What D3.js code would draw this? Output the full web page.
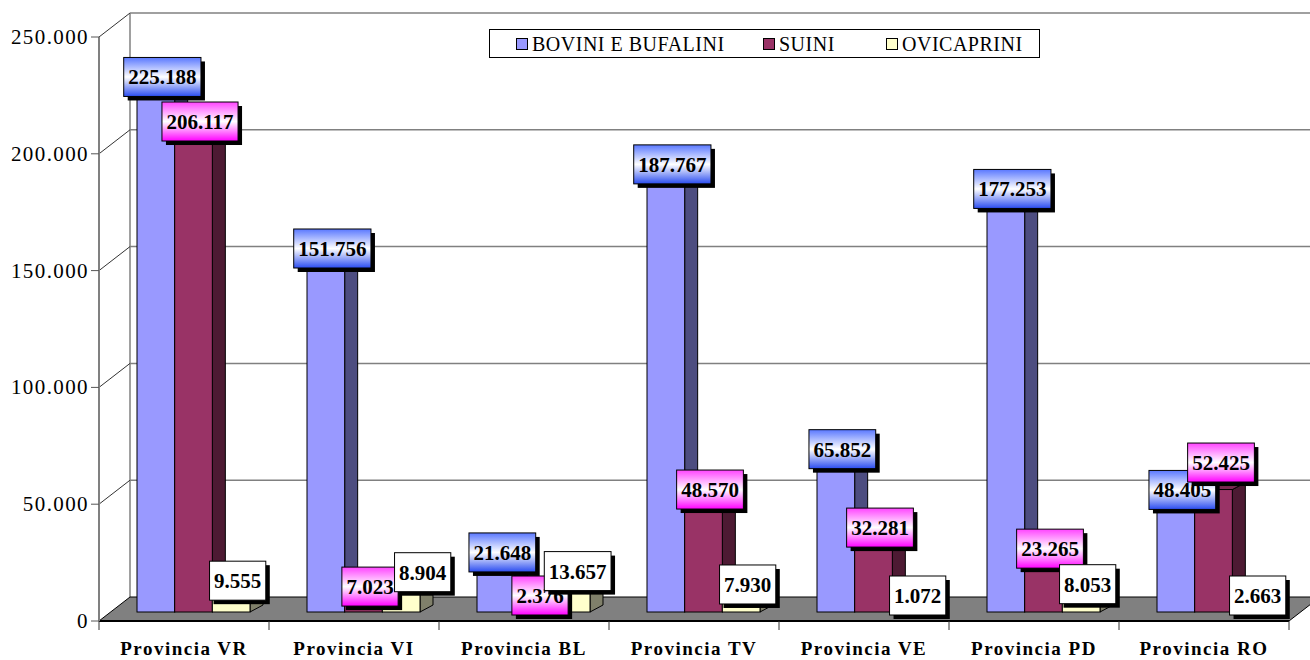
<!DOCTYPE html>
<html>
<head>
<meta charset="utf-8">
<script src="https://cdn.jsdelivr.net/npm/d3@7"></script>
<style>
  html, body { margin: 0; padding: 0; background: #fff; }
  svg { display: block; }
</style>
</head>
<body>
<svg id="chart" width="1310" height="660"></svg>
<script>
// Capi allevati per provincia del Veneto
const categories = ["Provincia VR", "Provincia VI", "Provincia BL", "Provincia TV", "Provincia VE", "Provincia PD", "Provincia RO"];
const seriesNames = ["BOVINI E BUFALINI", "SUINI", "OVICAPRINI"];
const bovini = [225188, 151756, 21648, 187767, 65852, 177253, 48405];
const suini = [206117, 7023, 2376, 48570, 32281, 23265, 52425];
const ovicaprini = [9555, 8904, 13657, 7930, 1072, 8053, 2663];
const yTicks = [0, 50000, 100000, 150000, 200000, 250000];

const seriesValues = [bovini, suini, ovicaprini];

// Styling per series: front face, side face, top face, label gradient
const seriesStyle = [
  { front: "#9999ff", side: "#4d4d80", top: "#8080d8", label: "gradBlue" },
  { front: "#993366", side: "#4d1a33", top: "#7a2952", label: "gradPink" },
  { front: "#ffffcc", side: "#80806a", top: "#e6e6b8", label: null }
];

const it = d3.formatLocale({ decimal: ",", thousands: ".", grouping: [3], currency: ["€", ""] });
const fmt = it.format(",d");

const svg = d3.select("#chart");
const W = 1310;

// 3D geometry: front plane vs back wall
const WALL_DX = 31, WALL_DY = -24;
// bars sit part-way into the floor depth
const BAR_DX = 9.5, BAR_DY = -9;
// depth of each bar
const SIDE_DX = 13, SIDE_DY = -7;

const x = d3.scaleBand().domain(categories).range([99, 1289]).padding(0);
const inner = d3.scaleBand().domain(seriesNames).range([28.5, 141.5]).padding(0);
const y = d3.scaleLinear().domain([0, 250000]).range([621, 37]);

// gradients for data labels
const defs = svg.append("defs");
function pipeGradient(id, edgeTop, edgeBottom) {
  const g = defs.append("linearGradient").attr("id", id)
    .attr("x1", 0).attr("y1", 0).attr("x2", 0).attr("y2", 1);
  g.append("stop").attr("offset", "0%").attr("stop-color", edgeTop);
  g.append("stop").attr("offset", "50%").attr("stop-color", "#ffffff");
  g.append("stop").attr("offset", "100%").attr("stop-color", edgeBottom);
}
pipeGradient("gradBlue", "#5a78ff", "#2a4cf0");
pipeGradient("gradPink", "#ff44ff", "#ff00ff");

// ---- back wall gridlines ----
const gridColor = "#808080";
const backG = svg.append("g");
backG.selectAll("line.grid").data(yTicks.filter(t => t > 0)).join("line")
  .attr("x1", 99 + WALL_DX).attr("x2", W + 40)
  .attr("y1", d => y(d) + WALL_DY).attr("y2", d => y(d) + WALL_DY)
  .attr("stroke", gridColor).attr("stroke-width", 1.5);
// back wall left edge
backG.append("line")
  .attr("x1", 99 + WALL_DX).attr("x2", 99 + WALL_DX)
  .attr("y1", y(250000) + WALL_DY).attr("y2", y(0) + WALL_DY)
  .attr("stroke", gridColor).attr("stroke-width", 1.5);

// ---- side wall: diagonal gridlines ----
backG.selectAll("line.side").data(yTicks.filter(t => t > 0)).join("line")
  .attr("x1", 99).attr("x2", 99 + WALL_DX)
  .attr("y1", d => y(d)).attr("y2", d => y(d) + WALL_DY)
  .attr("stroke", "#333").attr("stroke-width", 1);

// ---- floor ----
const x0 = 99, x1 = 1289;
svg.append("polygon")
  .attr("points", [[x0, y(0)], [x1, y(0)], [x1 + WALL_DX, y(0) + WALL_DY], [x0 + WALL_DX, y(0) + WALL_DY]].map(p => p.join(",")).join(" "))
  .attr("fill", "#808080").attr("stroke", "#000").attr("stroke-width", 1);
svg.append("line").attr("x1", x0).attr("x2", x1).attr("y1", y(0)).attr("y2", y(0))
  .attr("stroke", "#000").attr("stroke-width", 2);

// ---- y axis ----
const yAxisG = svg.append("g");
yAxisG.append("line").attr("x1", 99).attr("x2", 99).attr("y1", y(250000)).attr("y2", y(0))
  .attr("stroke", "#808080").attr("stroke-width", 2);
yAxisG.selectAll("line.tick").data(yTicks).join("line")
  .attr("x1", 91).attr("x2", 99).attr("y1", d => y(d)).attr("y2", d => y(d))
  .attr("stroke", "#555").attr("stroke-width", 1);
yAxisG.selectAll("text").data(yTicks).join("text")
  .attr("x", 89).attr("y", d => y(d) + 7)
  .attr("text-anchor", "end")
  .attr("font-family", "'Liberation Serif', 'Times New Roman', serif")
  .attr("font-size", 21).attr("letter-spacing", 1.4)
  .attr("fill", "#000")
  .text(d => fmt(d));

// ---- x axis ticks and labels ----
const xTickPos = categories.map(c => x(c)).concat([x1]);
svg.selectAll("line.xtick").data(xTickPos).join("line")
  .attr("x1", d => d).attr("x2", d => d).attr("y1", y(0)).attr("y2", y(0) + 9)
  .attr("stroke", "#333").attr("stroke-width", 1);
svg.selectAll("text.xlab").data(categories).join("text")
  .attr("x", d => x(d) + x.bandwidth() / 2).attr("y", 655)
  .attr("text-anchor", "middle")
  .attr("font-family", "'Liberation Serif', 'Times New Roman', serif")
  .attr("font-weight", "bold").attr("font-size", 19).attr("letter-spacing", 1.5)
  .attr("fill", "#000")
  .text(d => d);

// ---- bars ----
const bars = [];
categories.forEach((cat, ci) => {
  seriesNames.forEach((s, si) => {
    const v = seriesValues[si][ci];
    const bx = x(cat) + inner(s) + BAR_DX;
    const bw = inner.bandwidth();
    const top = y(v) + BAR_DY;
    const bottom = y(0) + BAR_DY;
    bars.push({ cat, s, si, v, bx, bw, top, bottom });
  });
});

const barG = svg.append("g");
const pts = a => a.map(p => p.join(",")).join(" ");
bars.forEach(b => {
  const st = seriesStyle[b.si];
  const g = barG.append("g");
  g.append("polygon")
    .attr("points", pts([[b.bx + b.bw, b.top], [b.bx + b.bw + SIDE_DX, b.top + SIDE_DY], [b.bx + b.bw + SIDE_DX, b.bottom + SIDE_DY], [b.bx + b.bw, b.bottom]]))
    .attr("fill", st.side).attr("stroke", "#000").attr("stroke-width", 1).attr("stroke-linejoin", "round");
  g.append("polygon")
    .attr("points", pts([[b.bx, b.top], [b.bx + SIDE_DX, b.top + SIDE_DY], [b.bx + b.bw + SIDE_DX, b.top + SIDE_DY], [b.bx + b.bw, b.top]]))
    .attr("fill", st.top).attr("stroke", "#000").attr("stroke-width", 1).attr("stroke-linejoin", "round");
  g.append("rect")
    .attr("x", b.bx).attr("y", b.top).attr("width", b.bw).attr("height", b.bottom - b.top)
    .attr("fill", st.front).attr("stroke", "#000").attr("stroke-width", 1);
});

// ---- data labels ----
// a few labels were moved by hand so they do not cover their neighbours
const LABEL_NUDGE = {
  "Provincia VI|OVICAPRINI": [15, -10],
  "Provincia RO|SUINI": [1, -18]
};
const labelG = svg.append("g");
const LBL_H = 39;
bars.forEach(b => {
  const st = seriesStyle[b.si];
  let cx = b.bx + b.bw / 2 + SIDE_DX / 2;
  let cy = Math.min(b.top - 9, 615 - LBL_H / 2);
  const n = LABEL_NUDGE[b.cat + "|" + b.s];
  if (n) { cx += n[0]; cy += n[1]; }
  const g = labelG.append("g");
  const shadow = g.append("rect");
  const box = g.append("rect");
  const t = g.append("text")
    .attr("x", cx).attr("y", cy + 7.5)
    .attr("text-anchor", "middle")
    .attr("font-family", "'Liberation Serif', 'Times New Roman', serif")
    .attr("font-weight", "bold").attr("font-size", 21)
    .attr("fill", "#000")
    .text(fmt(b.v));
  const tw = t.node().getComputedTextLength();
  const bw = tw + 9;
  box.attr("x", cx - bw / 2).attr("y", cy - LBL_H / 2).attr("width", bw).attr("height", LBL_H)
    .attr("fill", st.label ? `url(#${st.label})` : "#ffffff")
    .attr("stroke", "#000").attr("stroke-width", 1);
  shadow.attr("x", cx - bw / 2 + 4).attr("y", cy - LBL_H / 2 + 4).attr("width", bw).attr("height", LBL_H)
    .attr("fill", "#000");
});

// ---- legend ----
const legG = svg.append("g");
legG.append("rect").attr("x", 489.5).attr("y", 29.5).attr("width", 550).attr("height", 28)
  .attr("fill", "#fff").attr("stroke", "#000").attr("stroke-width", 1);
const legX = [516, 763, 886];
seriesNames.forEach((s, i) => {
  legG.append("rect").attr("x", legX[i] + 0.5).attr("y", 38.5).attr("width", 11).attr("height", 11)
    .attr("fill", seriesStyle[i].front).attr("stroke", "#000").attr("stroke-width", 1);
  legG.append("text").attr("x", legX[i] + 16).attr("y", 50.5)
    .attr("font-family", "'Liberation Serif', 'Times New Roman', serif")
    .attr("font-size", 20).attr("letter-spacing", 0.5).attr("fill", "#000")
    .text(s);
});
</script>
</body>
</html>
